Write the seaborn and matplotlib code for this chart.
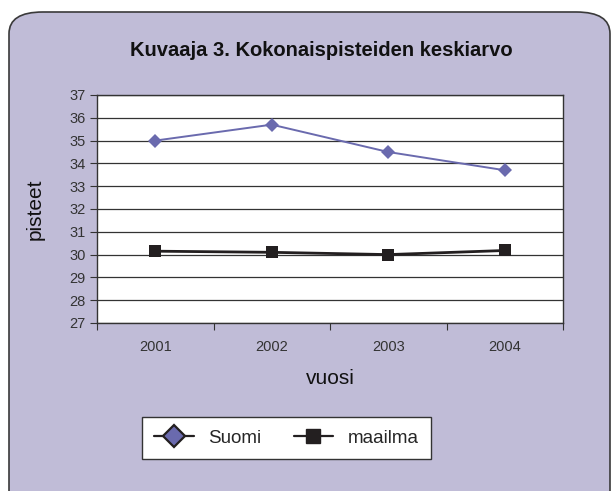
import numpy as np
import pandas as pd
import matplotlib
matplotlib.use("Agg")
from matplotlib import pyplot as plt
from matplotlib.lines import Line2D
from matplotlib.patches import FancyBboxPatch
import seaborn as sns

# data
years = ["2001", "2002", "2003", "2004"]
suomi = [35.0, 35.7, 34.5, 33.7]
maailma = [30.15, 30.1, 30.0, 30.18]
series_names = ["Suomi", "maailma"]

data = pd.DataFrame({
    "vuosi": years * 2,
    "pisteet": suomi + maailma,
    "sarja": [series_names[0]] * len(years) + [series_names[1]] * len(years),
})

sns.set_theme(style="white")
plt.rcParams["font.family"] = ["Liberation Sans", "DejaVu Sans"]

bg = "#c0bcd7"
purple = "#6a6aae"
black = "#231f20"

fig = plt.figure(figsize=(6.13, 4.91), dpi=100)
fig.patch.set_facecolor("white")
frame = FancyBboxPatch((9 / 613, -0.05), 601 / 613, 1.05 - 12 / 491,
                       boxstyle="round,pad=0,rounding_size=0.055",
                       transform=fig.transFigure, facecolor=bg,
                       edgecolor="#3a3a3a", linewidth=1.2, mutation_aspect=491 / 613,
                       zorder=-10)
fig.patches.append(frame)

ax = fig.add_axes([97 / 613, 1 - 323 / 491, (563 - 97) / 613, (323 - 95) / 491])
ax.set_facecolor("white")

sns.lineplot(data=data, x="vuosi", y="pisteet", hue="sarja", style="sarja",
             palette={"Suomi": purple, "maailma": black},
             markers={"Suomi": "D", "maailma": "s"}, dashes=False,
             markersize=7.5, linewidth=1.4, markeredgewidth=0, ax=ax, legend=False)
for line in ax.lines:
    if line.get_marker() == "s":
        line.set_markersize(8)
        line.set_linewidth(2.0)

ax.set_xlim(-0.5, len(years) - 0.5)
ax.set_ylim(27, 37)
ax.set_yticks(np.arange(27, 38, 1))
ax.set_xticks(np.arange(-0.5, len(years), 1))
ax.set_xticklabels([])
ax.set_xticks(np.arange(len(years)), minor=True)
ax.set_xticklabels(years, minor=True)
ax.tick_params(axis="x", which="major", length=5, width=0.8, color="#333333", direction="out", bottom=True)
ax.tick_params(axis="x", which="minor", length=0, labelsize=10.5, pad=12, labelcolor="#333333")
ax.tick_params(axis="y", length=5, width=0.8, color="#333333", direction="out", left=True,
               labelsize=10.5, labelcolor="#333333", pad=3)
ax.yaxis.grid(True, color="#333333", linewidth=0.9)
ax.set_axisbelow(True)
for side in ax.spines.values():
    side.set_color("#333333")
    side.set_linewidth(1.0)

ax.set_xlabel("vuosi", fontsize=15, color="#111111", labelpad=11)
ax.set_ylabel("pisteet", fontsize=15, color="#111111")
ax.yaxis.set_label_coords(-0.112, 0.5)

fig.text(321 / 613, 1 - 50 / 491, "Kuvaaja 3. Kokonaispisteiden keskiarvo",
         ha="center", va="center", fontsize=14.5, fontweight="bold", color="#111111")

handles = [
    Line2D([], [], color=black, marker="D", markersize=11, markerfacecolor=purple,
           markeredgecolor=black, markeredgewidth=1.6, linewidth=1.6),
    Line2D([], [], color=black, marker="s", markersize=10, markerfacecolor=black,
           markeredgecolor=black, linewidth=1.6),
]
leg = fig.legend(handles, series_names, loc="center", bbox_to_anchor=(286.5 / 613, 1 - 438 / 491),
                 ncol=2, fontsize=13.5, frameon=True, fancybox=False, framealpha=1,
                 handlelength=2.1, columnspacing=1.7, handletextpad=0.8, borderpad=0.65,
                 borderaxespad=0)
leg.get_frame().set_edgecolor("#333333")
leg.get_frame().set_linewidth(1.0)
leg.get_frame().set_facecolor("white")

fig.savefig("out.png", dpi=100, facecolor=fig.get_facecolor())
plt.close()
